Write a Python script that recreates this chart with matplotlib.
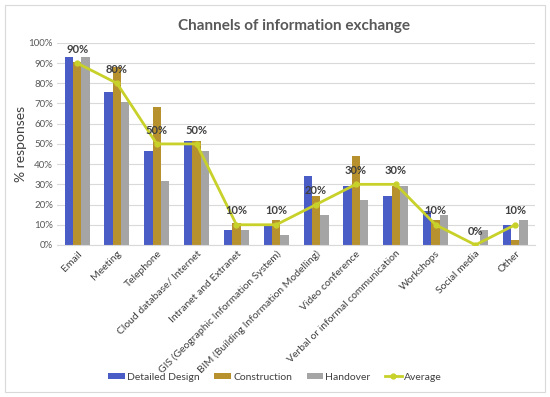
import matplotlib
matplotlib.use("Agg")
import matplotlib.pyplot as plt
from matplotlib.patches import Rectangle
import numpy as np

categories = ["Email", "Meeting", "Telephone", "Cloud database/ Internet", "Intranet and Extranet",
              "GIS (Geographic Information System)", "BIM (Building Information Modelling)",
              "Video conference", "Verbal or informal communication", "Workshops", "Social media", "Other"]
detailed_design = [92.9, 75.9, 46.4, 51.3, 7.3, 9.8, 34.1, 29.3, 24.4, 17.0, 0.0, 9.8]
construction = [90.5, 88.0, 68.3, 51.3, 11.0, 12.2, 24.4, 43.9, 29.3, 12.2, 0.0, 2.4]
handover = [92.9, 70.7, 31.7, 46.3, 7.3, 4.9, 14.6, 22.0, 29.3, 14.6, 7.3, 12.2]
average = [90, 80, 50, 50, 10, 10, 20, 30, 30, 10, 0, 10]

plt.rcParams['font.family'] = ['Lato', 'DejaVu Sans']

fig = plt.figure(figsize=(5.5, 3.97), dpi=100)
fig.patches.append(Rectangle((0.009, 0.013), 0.982, 0.975, transform=fig.transFigure,
                             fill=False, edgecolor='#d9d9d9', linewidth=0.8))
ax = fig.add_axes([0.104, 0.383, 0.869, 0.509])

x = np.arange(len(categories))
w = 0.21
c_blue = '#4a5cc5'
c_gold = '#b8912f'
c_gray = '#a5a5a5'
c_line = '#c8d12a'
b1 = ax.bar(x - w, detailed_design, w, color=c_blue, label='Detailed Design', zorder=2)
b2 = ax.bar(x, construction, w, color=c_gold, label='Construction', zorder=2)
b3 = ax.bar(x + w, handover, w, color=c_gray, label='Handover', zorder=2)
l1, = ax.plot(x, average, color=c_line, lw=2, marker='o', ms=3.5, label='Average', zorder=3)
for xi, v in zip(x, average):
    ax.annotate(f"{v:.0f}%", (xi, v), xytext=(0, 6), textcoords='offset points',
                ha='center', va='bottom', fontsize=8, fontweight='bold', color='#404040', zorder=4)

ax.set_ylim(0, 100)
ax.set_xlim(-0.5, len(categories) - 0.5)
ax.set_yticks(np.arange(0, 101, 10))
ax.set_yticklabels([f"{t}%" for t in range(0, 101, 10)], fontsize=7, color='#595959')
ax.set_xticks(x)
ax.set_xticklabels(categories, rotation=45, ha='right', rotation_mode='anchor', fontsize=7.5, color='#404040')
ax.tick_params(axis='both', length=0, pad=3)
ax.grid(axis='y', color='#d9d9d9', lw=0.8, zorder=0)
for s in ['top', 'right', 'left']:
    ax.spines[s].set_visible(False)
ax.spines['bottom'].set_color('#d9d9d9')
ax.set_ylabel('% responses', fontsize=10, color='#404040', labelpad=1)
fig.text(0.535, 0.935, 'Channels of information exchange', ha='center', va='center',
         fontsize=11, fontweight='bold', color='#595959')
fig.legend([b1, b2, b3, l1], ['Detailed Design', 'Construction', 'Handover', 'Average'],
           loc='center', bbox_to_anchor=(0.5, 0.05), ncol=4, frameon=False,
           fontsize=7.5, handlelength=1.6, handleheight=0.5, columnspacing=1.4, handletextpad=0.2,
           labelcolor='#404040')
fig.savefig('out.png', dpi=100)
